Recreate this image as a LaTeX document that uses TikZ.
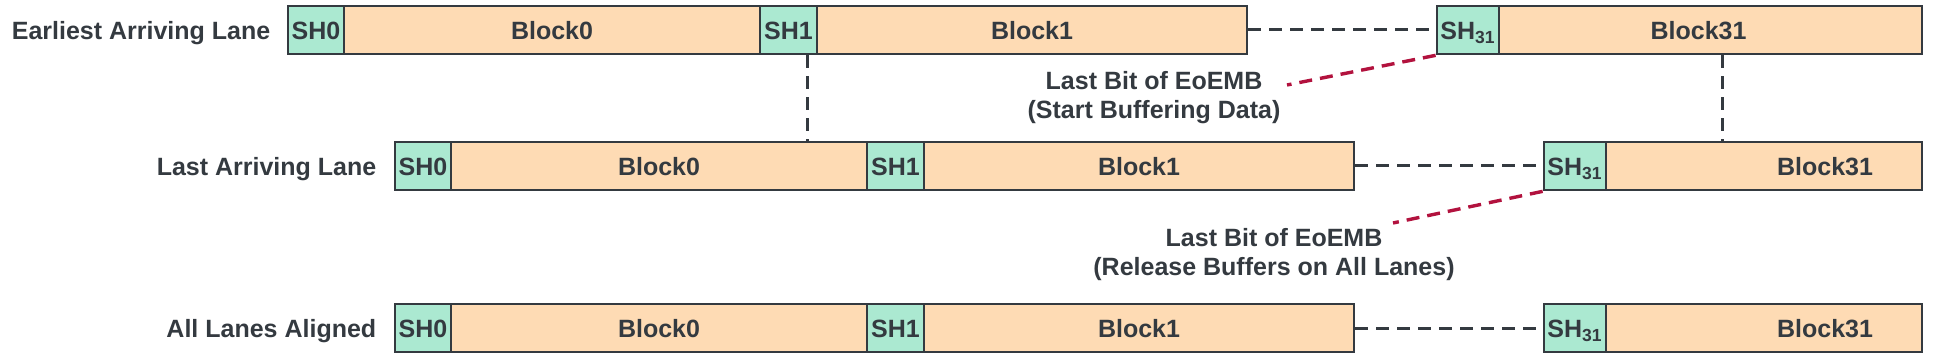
\documentclass[tikz,border=0pt]{standalone}
\usepackage{fontspec}
\setmainfont{Liberation Sans}
\usepackage{xcolor}
\usetikzlibrary{calc}
\definecolor{inkgray}{RGB}{52,58,64}
\definecolor{shgreen}{RGB}{171,233,209}
\definecolor{blkpeach}{RGB}{254,219,180}
\definecolor{evred}{RGB}{178,18,62}
\tikzset{
	txt/.style={text=inkgray, inner sep=0pt, font=\fontsize{12.5}{14.5}\selectfont\bfseries},
	blk/.style={txt, draw=inkgray, line width=1.35pt, minimum height=24pt,
		text height=9.1pt, text depth=0pt},
	shd/.style={blk, fill=shgreen},
	dat/.style={blk, fill=blkpeach},
	lane/.style={txt, anchor=east, text height=9.1pt, text depth=0pt},
	evlbl/.style={txt, anchor=north, align=center},
	gapdash/.style={draw=inkgray, line width=1.5pt, dash pattern=on 6.2pt off 4.3pt},
	evdash/.style={draw=evred, line width=1.7pt, dash pattern=on 6.5pt off 4pt},
}
\begin{document}
\begin{tikzpicture}[x=0.5pt, y=-0.5pt]
				\useasboundingbox (0,0) rectangle (1944,358);
				\node[shd, minimum width=28pt] at (316,30) (sha0) {SH0};
				\node[dat, minimum width=208pt] at (552,30) (blka0) {Block0};
				\node[shd, minimum width=28.5pt] at (788.5,30) (sha1) {SH1};
				\node[dat, minimum width=215pt] at (1032,30) (blka1) {Block1};
				\node[shd, minimum width=31pt] at (1468,30) (sha31) {SH\textsubscript{31}};
				\node[dat, minimum width=211.5pt] at (1710.5,30) (blka31) {};
				\node[txt, text height=9.1pt, text depth=0pt] at ($(blka31.center)+(-12,0)$) (ta31) {Block31};
				\node[lane] at ($(sha0.west)+(-16,0)$) (lanea) {Earliest Arriving Lane};
				\node[shd, minimum width=28pt] at (423,166) (shb0) {SH0};
				\node[dat, minimum width=208pt] at (659,166) (blkb0) {Block0};
				\node[shd, minimum width=28.5pt] at (895.5,166) (shb1) {SH1};
				\node[dat, minimum width=215pt] at (1139,166) (blkb1) {Block1};
				\node[shd, minimum width=31pt] at (1575,166) (shb31) {SH\textsubscript{31}};
				\node[dat, minimum width=158pt] at (1764,166) (blkb31) {};
				\node[txt, text height=9.1pt, text depth=0pt] at ($(blkb31.center)+(61,0)$) (tb31) {Block31};
				\node[lane] at ($(shb0.west)+(-17,0)$) (laneb) {Last Arriving Lane};
				\node[shd, minimum width=28pt] at (423,328) (shc0) {SH0};
				\node[dat, minimum width=208pt] at (659,328) (blkc0) {Block0};
				\node[shd, minimum width=28.5pt] at (895.5,328) (shc1) {SH1};
				\node[dat, minimum width=215pt] at (1139,328) (blkc1) {Block1};
				\node[shd, minimum width=31pt] at (1575,328) (shc31) {SH\textsubscript{31}};
				\node[dat, minimum width=158pt] at (1764,328) (blkc31) {};
				\node[txt, text height=9.1pt, text depth=0pt] at ($(blkc31.center)+(61,0)$) (tc31) {Block31};
				\node[lane] at ($(shc0.west)+(-17,0)$) (lanec) {All Lanes Aligned};
				\draw[gapdash] (blka1.east) -- (sha31.west);
				\draw[gapdash] (blkb1.east) -- (shb31.west);
				\draw[gapdash] (blkc1.east) -- (shc31.west);
				\draw[gapdash] ($(sha1.south east)+(-11,0)$) coordinate (va) -- (va |- blkb0.north);
				\draw[gapdash] ($(blka31.south west)+(225,0)$) coordinate (vb) -- (vb |- blkb31.north);
				\node[evlbl] at (1154,71) (eva) {Last Bit of EoEMB\\(Start Buffering Data)};
				\node[evlbl] at (1274,228) (evb) {Last Bit of EoEMB\\(Release Buffers on All Lanes)};
				\coordinate (enda) at (1287,85);
				\coordinate (endb) at (1393,223);
				\draw[evdash] (sha31.south west) -- (enda);
				\draw[evdash] (shb31.south west) -- (endb);
			\end{tikzpicture}
\end{document}
